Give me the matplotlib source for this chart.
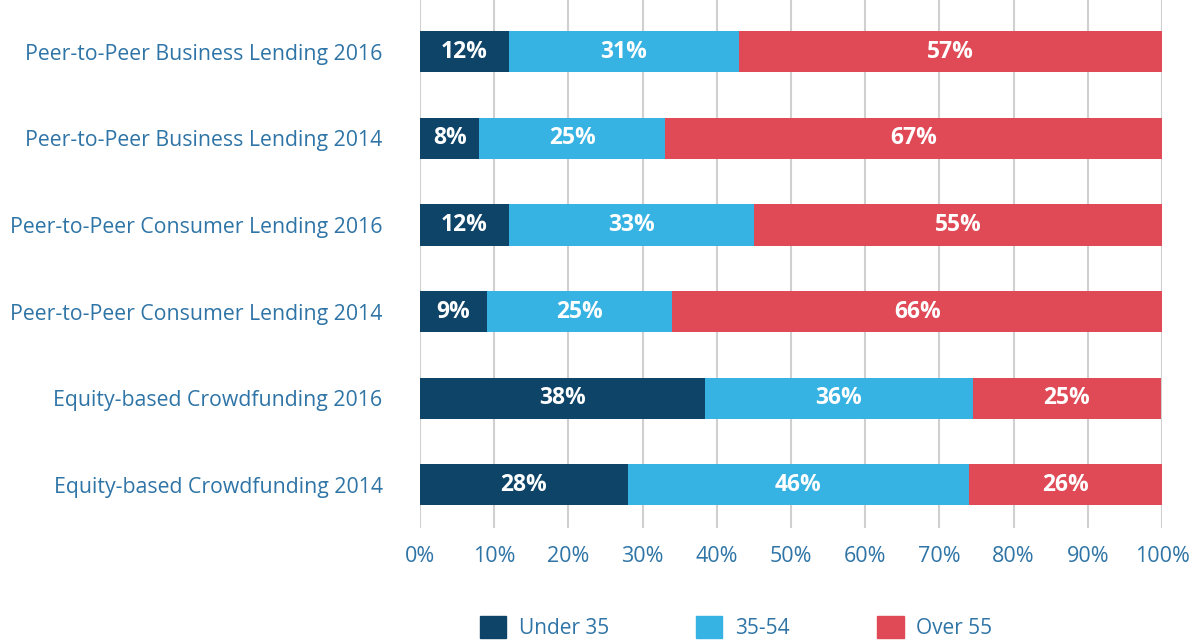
import matplotlib.pyplot as plt
from matplotlib.patches import Patch

plt.rcParams['font.family'] = ['Open Sans', 'DejaVu Sans']

categories = ['Peer-to-Peer Business Lending 2016', 'Peer-to-Peer Business Lending 2014',
              'Peer-to-Peer Consumer Lending 2016', 'Peer-to-Peer Consumer Lending 2014',
              'Equity-based Crowdfunding 2016', 'Equity-based Crowdfunding 2014']
under35 = [12, 8, 12, 9, 38.4, 28]
mid = [31, 25, 33, 25, 36.1, 46]
over55 = [57, 67, 55, 66, 25.4, 26]
series_names = ['Under 35', '35-54', 'Over 55']
ticks = list(range(0, 101, 10))

colors = ['#0D4467', '#36B2E3', '#E04A56']
text_col = '#2E74A6'

fig = plt.figure(figsize=(11.95, 6.4), dpi=100)
ax = fig.add_axes([0.3515, 0.175, 0.6209, 0.825])

ypos = list(range(len(categories)))
left = [0] * len(categories)
for vals, c in zip([under35, mid, over55], colors):
    ax.barh(ypos, vals, left=left, height=0.475, color=c, zorder=3)
    for y, l, v in zip(ypos, left, vals):
        ax.text(l + v / 2, y, f'{v:.0f}%', ha='center', va='center', color='white',
                fontsize=16.5, fontweight='bold', zorder=4)
    left = [l + v for l, v in zip(left, vals)]

ax.set_xlim(0, 100)
ax.set_ylim(5.5, -0.6)
ax.set_xticks(ticks)
ax.set_xticklabels([f'{t}%' for t in ticks], color=text_col, fontsize=15.5)
ax.set_yticks(ypos)
ax.set_yticklabels(categories, color=text_col, fontsize=15.3)
ax.tick_params(axis='both', length=0)
ax.tick_params(axis='x', pad=13)
ax.tick_params(axis='y', pad=27)
ax.grid(axis='x', color='#D0D0D0', linewidth=1.5, zorder=0)
for s in ax.spines.values():
    s.set_visible(False)

handles = [Patch(color=c) for c in colors]
leg = fig.legend(handles, series_names, loc='center', bbox_to_anchor=(0.616, 0.02),
                 ncol=3, frameon=False, fontsize=15, handlelength=1.25, handleheight=1.25,
                 columnspacing=4.2, handletextpad=0.62)
for t in leg.get_texts():
    t.set_color(text_col)

fig.savefig('out.png', dpi=100)
